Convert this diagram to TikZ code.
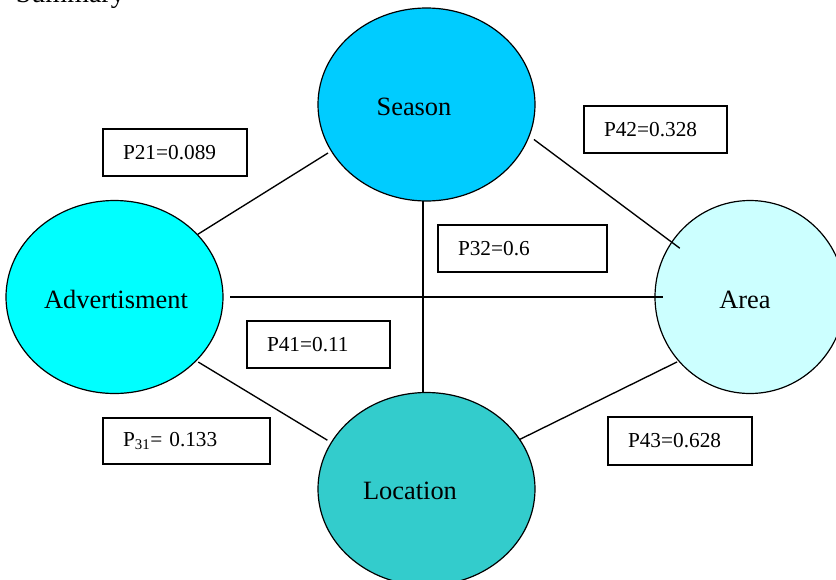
\documentclass[tikz,border=0pt]{standalone}
\usepackage{fontspec}
\setmainfont{Liberation Serif}
\usetikzlibrary{shapes.geometric}
\definecolor{seasonc}{RGB}{0,204,255}
\definecolor{advc}{RGB}{0,255,255}
\definecolor{locc}{RGB}{51,204,204}
\definecolor{areac}{RGB}{204,255,255}
\begin{document}
\begin{tikzpicture}[x=1pt,y=-1pt,
 ell/.style={ellipse, draw, line width=1.2pt, inner sep=0pt, outer sep=0pt, minimum width=217pt, minimum height=193pt},
 lbl/.style={font=\fontsize{26.4}{30}\selectfont, inner sep=0pt},
 pbox/.style={draw, line width=1.4pt, inner xsep=20pt, inner ysep=0pt, outer sep=0pt, align=left, font=\fontsize{21.3}{25}\selectfont, minimum height=47pt},
 conn/.style={line width=1.35pt}]
\useasboundingbox (0,0) rectangle (836,579);
\clip (0,0) rectangle (836,579);
\node[font=\fontsize{28}{32}\selectfont, anchor=base east, inner sep=0pt] (summary) at (125,2) {Summary};
% ellipses
\node[ell, fill=seasonc] (season) at (426.5,104.5) {};
\node[ell, fill=advc] (adv) at (114.5,297) {};
\node[ell, fill=locc] (loc) at (426.5,489) {};
\node[ell, fill=areac, minimum width=190pt] (area) at (750,297) {};
% connectors
\draw[conn, shorten >=4pt] (adv.37) -- (season.206);
\draw[conn, shorten <=6pt, shorten >=-10pt] (season.343) -- (area.145);
\draw[conn, shorten <=7pt, shorten >=-8pt] (adv.east) -- (area.west);
\draw[conn] ([xshift=-3.5pt]season.south) -- ([xshift=-3.5pt]loc.north);
\draw[conn, shorten <=2.6pt, shorten >=4.7pt] (adv.322) -- (loc.154);
\draw[conn, shorten >=2pt] (loc.28) -- (area.222);
% labels
\node[lbl] (seasont) at (414,107) {Season};
\node[lbl] (advt) at (116,299) {Advertisment};
\node[lbl] (loct) at (410,491) {Location};
\node[lbl] (areat) at (745,300) {Area};
% boxes
\node[pbox, text width=104pt] (p21) at (175,152.5) {P21=0.089};
\node[pbox, text width=127pt, minimum height=46pt] (p31) at (186.5,441) {P\textsubscript{31}= 0.133};
\node[pbox, text width=103pt] (p41) at (318.5,344.5) {P41=0.11};
\node[pbox, text width=129pt] (p32) at (522.5,248.5) {P32=0.6};
\node[pbox, text width=103pt] (p42) at (655.5,129.5) {P42=0.328};
\node[pbox, text width=104pt, minimum height=48pt] (p43) at (680,441) {P43=0.628};
\end{tikzpicture}
\end{document}
